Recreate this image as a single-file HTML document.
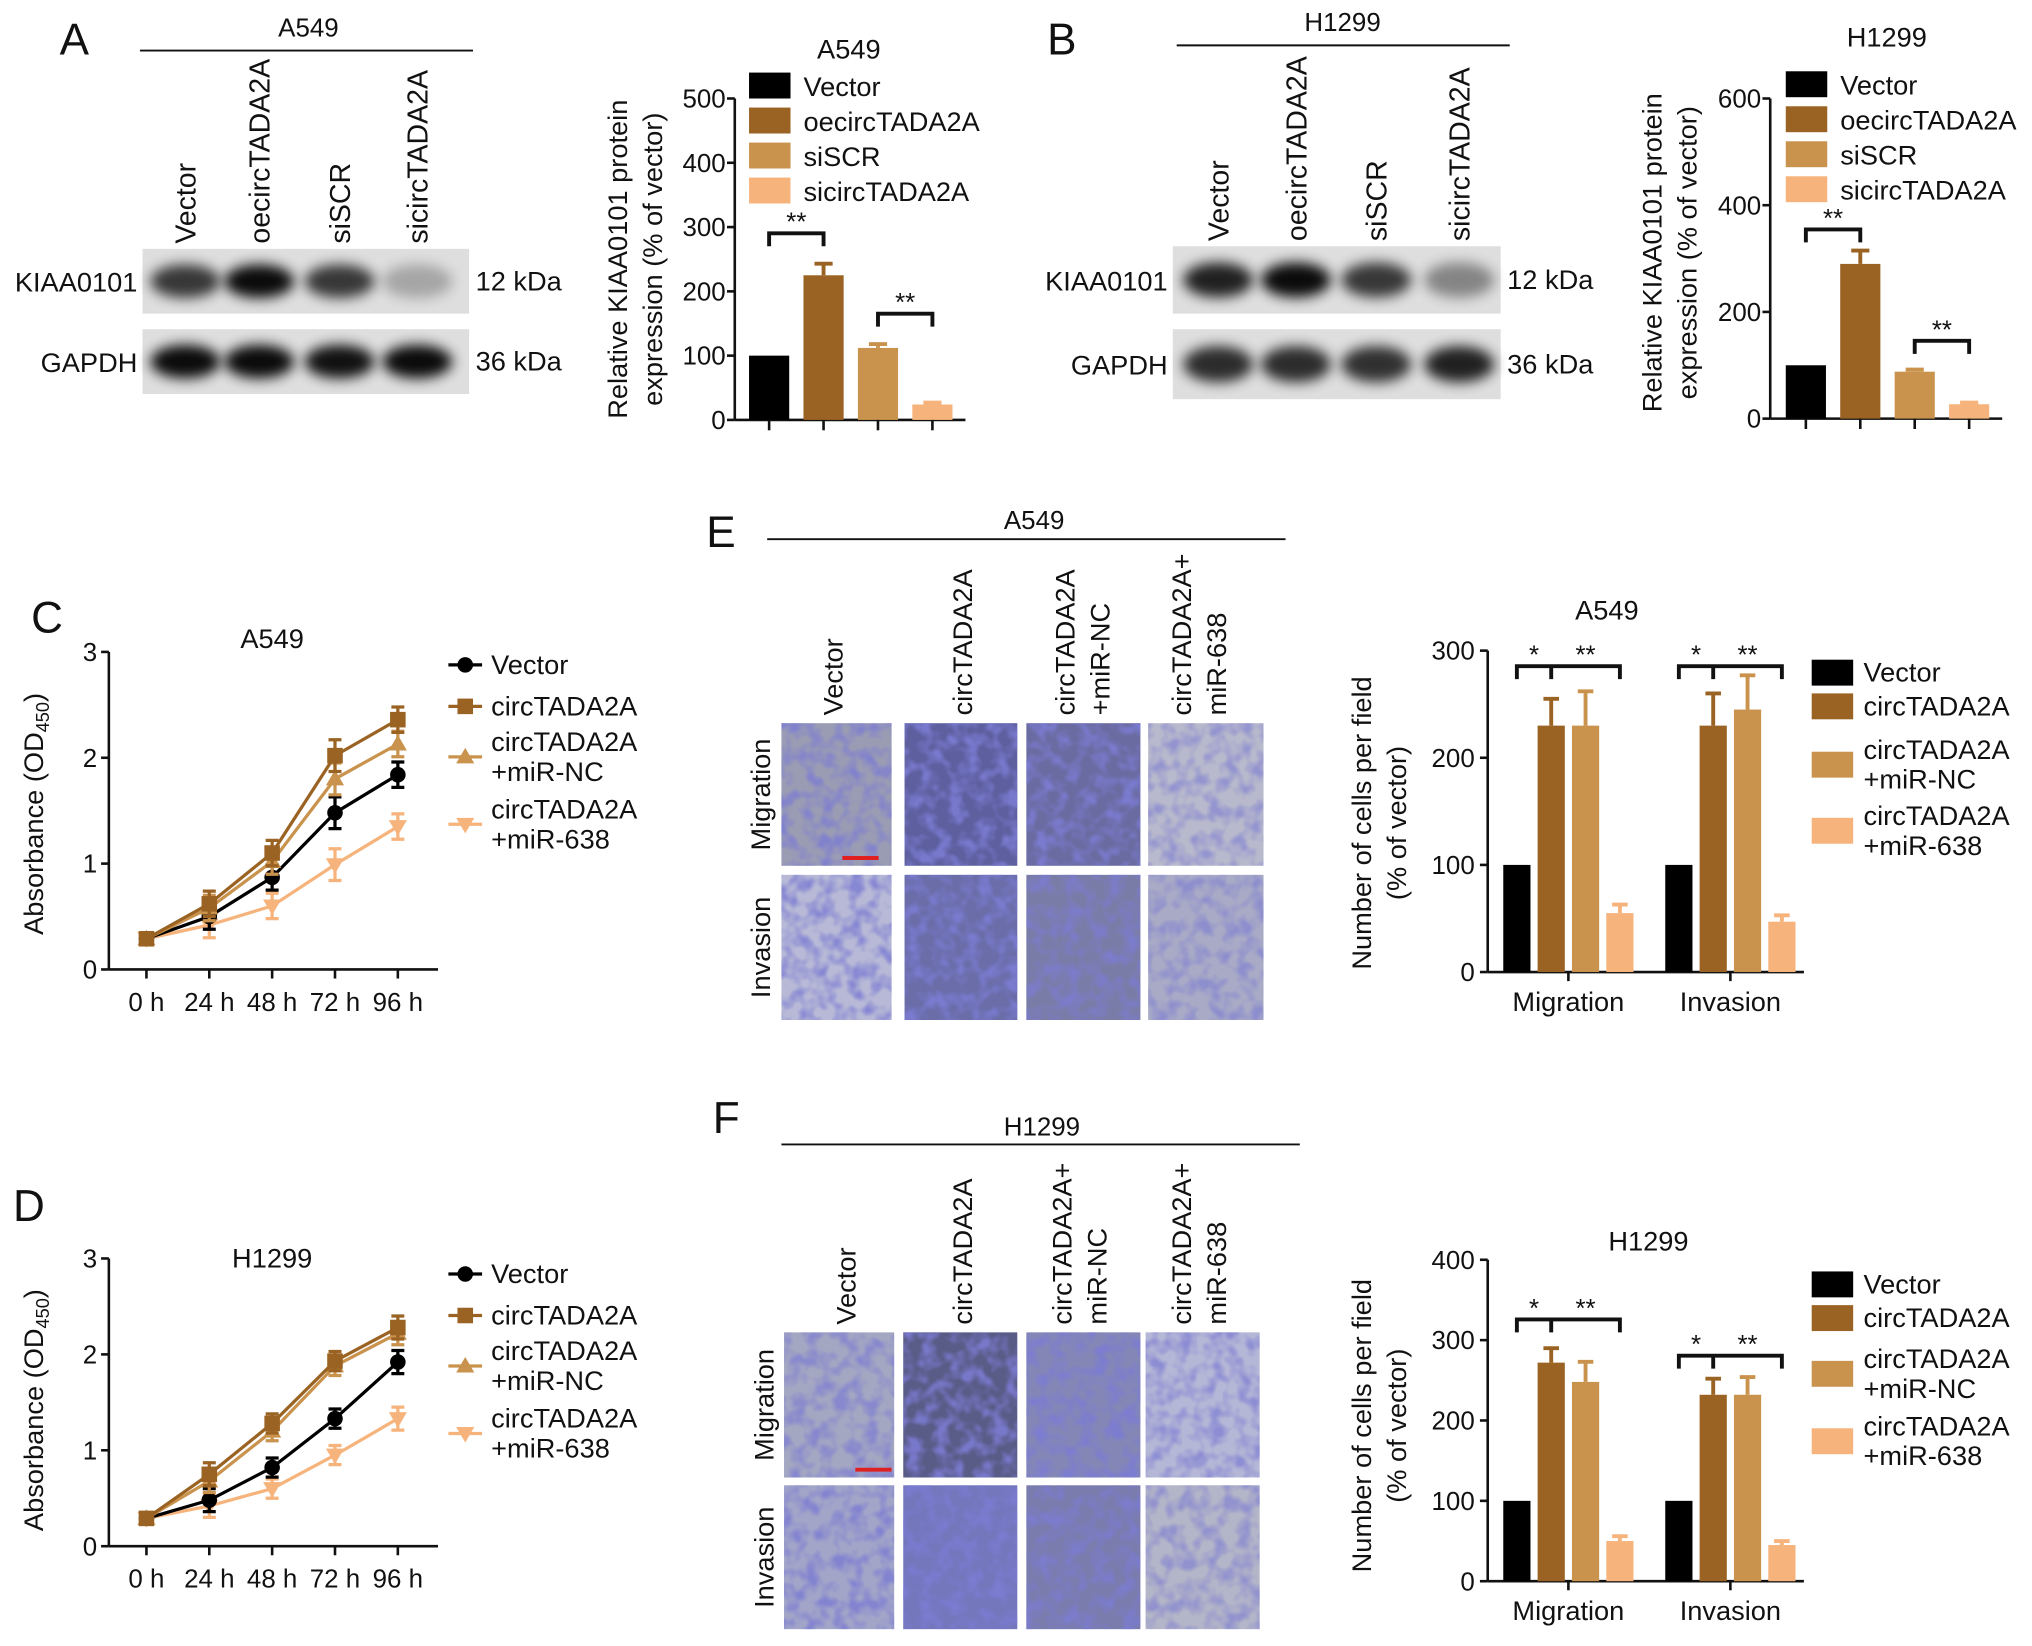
<!DOCTYPE html>
<html><head><meta charset="utf-8"><style>
html,body{margin:0;padding:0;background:#fff;}
svg{display:block;font-family:"Liberation Sans",Arial,sans-serif;}
</style></head><body>
<svg id="fig" width="2032" height="1646" viewBox="0 0 1568 1270" preserveAspectRatio="none" xmlns="http://www.w3.org/2000/svg">
<defs>
<filter id="blur4" x="-50%" y="-50%" width="200%" height="200%"><feGaussianBlur stdDeviation="5"/></filter>
<filter id="tex" x="0" y="0" width="100%" height="100%">
<feTurbulence type="fractalNoise" baseFrequency="0.09" numOctaves="2" seed="3" result="n"/>
<feColorMatrix in="n" type="matrix" values="0 0 0 0 0.2  0 0 0 0 0.2  0 0 0 0 0.65  0 0 0 2.8 -1.1" result="c"/>
<feComposite in="c" in2="SourceGraphic" operator="in"/>
</filter>
</defs>
<g id="root"></g>
</svg>
<script>
// ---- data ----
const blotLanes=['Vector','oecircTADA2A','siSCR','sicircTADA2A'];
const aCats=['Vector','oecircTADA2A','siSCR','sicircTADA2A'];
const aVals=[100,225,112,24];
const aErr=[0,18,6,3];
const aTicks=[0,100,200,300,400,500];
const bVals=[100,290,88,27];
const bErr=[0,25,4,3];
const bTicks=[0,200,400,600];
const timeLabels=['0 h','24 h','48 h','72 h','96 h'];
const lineTicks=[0,1,2,3];
const lineSeries=['Vector','circTADA2A','circTADA2A +miR-NC','circTADA2A +miR-638'];
const cVector=[0.29,0.50,0.87,1.48,1.84];
const cCirc=[0.29,0.62,1.10,2.02,2.36];
const cNC=[0.29,0.58,1.02,1.80,2.13];
const c638=[0.29,0.42,0.60,0.99,1.35];
const cErr=[0.04,0.12,0.12,0.15,0.12];
const dVector=[0.29,0.48,0.82,1.33,1.92];
const dCirc=[0.29,0.75,1.28,1.93,2.28];
const dNC=[0.29,0.68,1.20,1.88,2.22];
const d638=[0.29,0.42,0.60,0.95,1.33];
const dErr=[0.04,0.12,0.10,0.10,0.12];
const groups=['Migration','Invasion'];
const eMig=[100,230,230,55];
const eMigErr=[0,25,32,8];
const eInv=[100,230,245,47];
const eInvErr=[0,30,32,6];
const eTicks=[0,100,200,300];
const fMig=[100,272,248,50];
const fMigErr=[0,18,25,6];
const fInv=[100,232,232,45];
const fInvErr=[0,20,22,5];
const fTicks=[0,100,200,300,400];

const COLS=['#000000','#9a6323','#c9934e','#f6b47c'];
const NS='http://www.w3.org/2000/svg';
const root=document.getElementById('root');
function mk(tag,attrs,parent){const el=document.createElementNS(NS,tag);for(const k in attrs)el.setAttribute(k,attrs[k]);(parent||root).appendChild(el);return el;}
function txt(s,x,y,size,anchor,parent,rot){const el=mk('text',{x:x,y:y,'font-size':size,'text-anchor':anchor||'middle',fill:'#111'},parent);if(rot)el.setAttribute('transform','rotate(-90 '+x+' '+y+')');el.textContent=s;return el;}
function line(x1,y1,x2,y2,parent,w){return mk('line',{x1:x1,y1:y1,x2:x2,y2:y2,stroke:'#111','stroke-width':w||2},parent);}

// ---- panel letters ----
[['A',46,42],['B',808,42],['C',24,488],['D',10,942],['E',545,422],['F',550,874]].forEach(p=>{
  const t=txt(p[0],p[1],p[2],34,'start');
  
  
});

// ---- western blots ----
function blot(cfg){
  const g=mk('g',{});
  
  
  const t=txt(cfg.cell,cfg.titleX,cfg.titleY,20,'middle',g);
  
  
  line(cfg.lx1,cfg.lineY,cfg.lx2,cfg.lineY,g,1.5);
  blotLanes.forEach((s,i)=>{
    const l=txt(s,cfg.laneX[i],cfg.laneBottom,22,'start',g,true);
    
    
  });
  cfg.rows.forEach((r,ri)=>{
    const bg=mk('rect',{x:cfg.bx,y:r.y,width:cfg.bw,height:r.h,fill:'#dedede'},g);
    
    
    r.int.forEach((v,i)=>{
      const e=mk('ellipse',{cx:cfg.laneX[i]-8,cy:r.y+r.h/2,rx:27,ry:r.h*0.26,fill:'#000',opacity:v,filter:'url(#blur4)'},g);
      
      
    });
    const n=txt(r.label,cfg.bx-4,r.y+r.h/2+8,21,'end',g);
    
    
    const k=txt(r.kda,cfg.bx+cfg.bw+5,r.y+r.h/2+7,21,'start',g);
    
    
  });
}
blot({name:'blot-a549',cell:'A549',titleX:238,titleY:28,lx1:108,lx2:365,lineY:39,laneX:[151,208,270,330],laneBottom:188,bx:110,bw:252,
  rows:[{y:192,h:50,label:'KIAA0101',kda:'12 kDa',int:[0.75,0.95,0.75,0.25]},{y:254,h:50,label:'GAPDH',kda:'36 kDa',int:[0.95,0.95,0.92,0.95]}]});
blot({name:'blot-h1299',cell:'H1299',titleX:1036,titleY:24,lx1:908,lx2:1165,lineY:35,laneX:[948,1008,1070,1134],laneBottom:186,bx:905,bw:253,
  rows:[{y:190,h:52,label:'KIAA0101',kda:'12 kDa',int:[0.85,0.95,0.75,0.4]},{y:254,h:54,label:'GAPDH',kda:'36 kDa',int:[0.8,0.8,0.78,0.85]}]});

// ---- generic bar chart (4 bars) ----
function barChart4(cfg){
  const g=mk('g',{});
  
  
  const ys=v=>cfg.y0-(v/cfg.max)*(cfg.y0-cfg.yTop);
  const tt=txt(cfg.title,cfg.titleX,cfg.titleY,21,'middle',g);
  
  
  line(cfg.ax,cfg.yTop,cfg.ax,cfg.y0,g,2);
  line(cfg.ax,cfg.y0,cfg.axEnd,cfg.y0,g,2);
  cfg.ticks.forEach(t=>{
    line(cfg.ax-6,ys(t),cfg.ax,ys(t),g,2);
    const l=txt(String(t),cfg.ax-7,ys(t)+7,20,'end',g);
    
    
  });
  cfg.vals.forEach((v,i)=>{
    const x=cfg.bx0+i*cfg.step;
    if(cfg.err[i]>0){
      const e=line(x+cfg.bw/2,ys(v),x+cfg.bw/2,ys(v+cfg.err[i]),g,3);
      e.setAttribute('stroke',COLS[i]);
      
      const c=line(x+cfg.bw/2-7,ys(v+cfg.err[i]),x+cfg.bw/2+7,ys(v+cfg.err[i]),g,3);
      c.setAttribute('stroke',COLS[i]);
      
    }
    const r=mk('rect',{x:x,y:ys(v),width:cfg.bw,height:cfg.y0-ys(v),fill:COLS[i]},g);
    
    
    line(x+cfg.bw/2,cfg.y0,x+cfg.bw/2,cfg.y0+8,g,2);
  });
  cfg.yTitle.forEach((s,k)=>{
    const l=txt(s,cfg.ytX+k*27,cfg.ytY,21,'middle',g,true);
    
    
  });
  cfg.cats.forEach((s,i)=>{
    const y=cfg.legY+i*cfg.legStep;
    const sw=mk('rect',{x:cfg.legX,y:y,width:32,height:20,fill:COLS[i]},g);
    
    
    const l=txt(s,cfg.legX+42,y+18,21,'start',g);
    
    
  });
  cfg.brackets.forEach(b=>{
    const x1=cfg.bx0+b[0]*cfg.step+cfg.bw/2, x2=cfg.bx0+b[1]*cfg.step+cfg.bw/2;
    const p=mk('path',{d:'M'+x1+' '+(b[2]+10)+' V'+b[2]+' H'+x2+' V'+(b[2]+10),fill:'none',stroke:'#111','stroke-width':3},g);
    
    
    const s=txt('**',(x1+x2)/2,b[2]-2,20,'middle',g);
    
    
  });
}
barChart4({name:'bar-chart-a549-protein',title:'A549',titleX:655,titleY:45,ax:567,axEnd:745,y0:324,yTop:76,max:500,ticks:aTicks,vals:aVals,err:aErr,cats:aCats,
  bx0:578,step:42,bw:31,ytX:484,ytY:200,yTitle:['Relative KIAA0101 protein','expression (% of vector)'],legX:578,legY:56,legStep:27,brackets:[[0,1,180],[2,3,242]]});
barChart4({name:'bar-chart-h1299-protein',title:'H1299',titleX:1456,titleY:36,ax:1366,axEnd:1545,y0:323,yTop:76,max:600,ticks:bTicks,vals:bVals,err:bErr,cats:aCats,
  bx0:1378,step:42,bw:31,ytX:1282,ytY:195,yTitle:['Relative KIAA0101 protein','expression (% of vector)'],legX:1378,legY:55,legStep:27,brackets:[[0,1,177],[2,3,263]]});

// ---- line charts ----
function lineChart(cfg){
  const g=mk('g',{});
  
  
  const ys=v=>cfg.y0-(v/3)*(cfg.y0-cfg.y3);
  const xs=i=>cfg.x0+i*cfg.xs;
  const tt=txt(cfg.title,210,cfg.titleY,21,'middle',g);
  
  
  line(cfg.ax,cfg.y3,cfg.ax,cfg.y0,g,2);
  line(cfg.ax,cfg.y0,338,cfg.y0,g,2);
  lineTicks.forEach(t=>{
    line(cfg.ax-6,ys(t),cfg.ax,ys(t),g,2);
    const l=txt(String(t),cfg.ax-9,ys(t)+7,20,'end',g);
    
    
  });
  timeLabels.forEach((s,i)=>{
    line(xs(i),cfg.y0,xs(i),cfg.y0+7,g,2);
    const l=txt(s,xs(i),cfg.y0+32,20,'middle',g);
    
    
  });
  const yt=mk('text',{x:33,y:cfg.ytY,'font-size':21,'text-anchor':'middle',fill:'#111',transform:'rotate(-90 33 '+cfg.ytY+')'},g);
  
  
  yt.innerHTML='Absorbance (OD<tspan font-size="14" dy="5">450</tspan><tspan dy="-5">)</tspan>';
  const order=[3,0,2,1];
  order.forEach(si=>{
    const vals=cfg.series[si];
    const col=COLS[si];
    const sg=mk('g',{},g);
    
    
    const pl=mk('polyline',{points:vals.map((v,i)=>xs(i)+','+ys(v)).join(' '),fill:'none',stroke:col,'stroke-width':2.5},sg);
    
    vals.forEach((v,i)=>{
      const e=cfg.err[i];
      const eb=mk('path',{d:'M'+xs(i)+' '+ys(v-e)+' V'+ys(v+e)+' M'+(xs(i)-5)+' '+ys(v-e)+' H'+(xs(i)+5)+' M'+(xs(i)-5)+' '+ys(v+e)+' H'+(xs(i)+5),stroke:col,'stroke-width':2.5,fill:'none'},sg);
      
      const m=marker(si,xs(i),ys(v),sg);
      
      
    });
  });
  const leg=[[0,cfg.legY[0]],[1,cfg.legY[1]],[2,cfg.legY[2]],[3,cfg.legY[3]]];
  leg.forEach(p=>{
    const si=p[0],y=p[1];
    const lg=mk('g',{},g);
    
    
    mk('line',{x1:346,y1:y,x2:372,y2:y,stroke:COLS[si],'stroke-width':2.5},lg);
    marker(si,359,y,lg);
    const parts=lineSeries[si].split(' ');
    parts.forEach((s,k)=>txt(s,379,y+7+(k-(parts.length-1)/2)*23,21,'start',lg));
  });
}
function marker(si,x,y,p){
  const c=COLS[si];
  if(si===0)return mk('circle',{cx:x,cy:y,r:6,fill:c},p);
  if(si===1)return mk('rect',{x:x-6,y:y-6,width:12,height:12,fill:c},p);
  if(si===2)return mk('path',{d:'M'+x+' '+(y-7)+' L'+(x+7)+' '+(y+5)+' L'+(x-7)+' '+(y+5)+'Z',fill:c},p);
  return mk('path',{d:'M'+x+' '+(y+7)+' L'+(x+7)+' '+(y-5)+' L'+(x-7)+' '+(y-5)+'Z',fill:c},p);
}
lineChart({name:'line-chart-a549',title:'A549',titleY:500,ax:84,y0:748,y3:503,x0:113,xs:48.5,series:[cVector,cCirc,cNC,c638],err:cErr,ytY:628,legY:[513,545,584,636]});
lineChart({name:'line-chart-h1299',title:'H1299',titleY:978,ax:84,y0:1193,y3:971,x0:113,xs:48.5,series:[dVector,dCirc,dNC,d638],err:dErr,ytY:1088,legY:[983,1015,1054,1106]});

// ---- transwell images ----
function micro(cfg){
  const g=mk('g',{});
  
  
  const t=txt(cfg.cell,cfg.tX,cfg.tY,20,'middle',g);
  
  
  line(cfg.lx1,cfg.lineY,cfg.lx2,cfg.lineY,g,1.5);
  cfg.heads.forEach(h=>{
    h[1].forEach((s,k)=>{
      const l=txt(s,h[0]+k*27,cfg.hBottom,21,'start',g,true);
      
      
    });
  });
  ['Migration','Invasion'].forEach((s,r)=>{
    const cy=(cfg.rows[r][0]+cfg.rows[r][1])/2;
    const l=txt(s,cfg.rlX,cy,21,'middle',g,true);
    
    
    cfg.cols.forEach((c,ci)=>{
      const w=c[1]-c[0],h=cfg.rows[r][1]-cfg.rows[r][0];
      const base=mk('rect',{x:c[0],y:cfg.rows[r][0],width:w,height:h,fill:cfg.colors[r][ci]},g);
      
      
      const ov=mk('rect',{x:c[0],y:cfg.rows[r][0],width:w,height:h,fill:'#fff',filter:'url(#tex)',opacity:cfg.tex[r][ci]},g);
      
      
    });
  });
  const sb=mk('line',{x1:cfg.sb[0],y1:cfg.sb[2],x2:cfg.sb[1],y2:cfg.sb[2],stroke:'#e02020','stroke-width':3},g);
  
  
}
micro({name:'transwell-a549',cell:'A549',tX:798,tY:408,lx1:592,lx2:992,lineY:416,hBottom:552,
  heads:[[650,['Vector']],[750,['circTADA2A']],[829,['circTADA2A','+miR-NC']],[919,['circTADA2A+','miR-638']]],
  rows:[[558,668],[675,787]],cols:[[603,688],[698,785],[792,880],[886,975]],rlX:594,sb:[650,678,662],
  colors:[['#9a9cb4','#5d5f9e','#6a6ba0','#b8b9cc'],['#b7b9d6','#6a6da8','#7a7ca8','#a9abc6']],tex:[[0.8,0.9,0.9,0.6],[0.8,0.9,0.8,0.6]]});
micro({name:'transwell-h1299',cell:'H1299',tX:804,tY:876,lx1:603,lx2:1003,lineY:883,hBottom:1022,
  heads:[[660,['Vector']],[750,['circTADA2A']],[827,['circTADA2A+','miR-NC']],[919,['circTADA2A+','miR-638']]],
  rows:[[1028,1140],[1146,1257]],cols:[[605,690],[697,785],[792,880],[884,972]],rlX:597,sb:[660,688,1134],
  colors:[['#a4a7c2','#5a5c88','#8487b6','#b5b7d6'],['#a2a5c8','#7477bc','#7a7cae','#b3b5c8']],tex:[[0.7,0.9,0.9,0.7],[0.8,0.9,0.8,0.6]]});

// ---- grouped bar charts ----
function groupChart(cfg){
  const g=mk('g',{});
  
  
  const ys=v=>cfg.y0-(v/cfg.max)*(cfg.y0-cfg.yTop);
  const tt=txt(cfg.title,cfg.titleX,cfg.titleY,21,'middle',g);
  
  
  line(1148,cfg.yTop,1148,cfg.y0,g,2);
  line(1148,cfg.y0,1392,cfg.y0,g,2);
  cfg.ticks.forEach(t=>{
    line(1142,ys(t),1148,ys(t),g,2);
    const l=txt(String(t),1138,ys(t)+7,20,'end',g);
    
    
  });
  const sets=[[cfg.mig,cfg.migErr,1160],[cfg.inv,cfg.invErr,1285]];
  sets.forEach((s,gi)=>{
    const vals=s[0],err=s[1],x0=s[2];
    vals.forEach((v,i)=>{
      const x=x0+i*26.5,bw=21;
      if(err[i]>0){
        const e=mk('path',{d:'M'+(x+bw/2)+' '+ys(v)+' V'+ys(v+err[i])+' M'+(x+bw/2-6)+' '+ys(v+err[i])+' H'+(x+bw/2+6),stroke:COLS[i],'stroke-width':3,fill:'none'},g);
        
      }
      const r=mk('rect',{x:x,y:ys(v),width:bw,height:cfg.y0-ys(v),fill:COLS[i]},g);
      
      
    });
    const cx=x0+1.5*26.5+10.5;
    line(cx,cfg.y0,cx,cfg.y0+7,g,2);
    const l=txt(groups[gi],cx,cfg.y0+30,21,'middle',g);
    
    
    const by=cfg.brY[gi];
    const xa=x0+10.5,xb=x0+26.5+10.5,xd=x0+3*26.5+10.5;
    const p=mk('path',{d:'M'+xa+' '+(by+10)+' V'+by+' H'+xd+' V'+(by+10)+' M'+xb+' '+by+' V'+(by+10),fill:'none',stroke:'#111','stroke-width':3},g);
    
    
    const s1=txt('*',(xa+xb)/2,by-2,20,'middle',g);
    
    
    const s2=txt('**',(xb+xd)/2,by-2,20,'middle',g);
    
    
  });
  ['Number of cells per field','(% of vector)'].forEach((s,k)=>{
    const l=txt(s,1058+k*27,cfg.ytY,21,'middle',g,true);
    
    
  });
  const legLabels=[['Vector'],['circTADA2A'],['circTADA2A','+miR-NC'],['circTADA2A','+miR-638']];
  legLabels.forEach((lab,i)=>{
    const y=cfg.legY[i];
    const sw=mk('rect',{x:1398,y:y-10,width:32,height:20,fill:COLS[i]},g);
    
    
    lab.forEach((s,k)=>{
      const l=txt(s,1438,y+7+(k-(lab.length-1)/2)*23,21,'start',g);
      
      
    });
  });
}
groupChart({name:'bar-chart-a549-transwell',title:'A549',titleX:1240,titleY:478,y0:750,yTop:502,max:300,ticks:eTicks,mig:eMig,migErr:eMigErr,inv:eInv,invErr:eInvErr,brY:[514,514],ytY:635,legY:[519,545,590,641]});
groupChart({name:'bar-chart-h1299-transwell',title:'H1299',titleX:1272,titleY:965,y0:1220,yTop:972,max:400,ticks:fTicks,mig:fMig,migErr:fMigErr,inv:fInv,invErr:fInvErr,brY:[1018,1046],ytY:1100,legY:[991,1017,1060,1112]});
</script>
</body></html>
